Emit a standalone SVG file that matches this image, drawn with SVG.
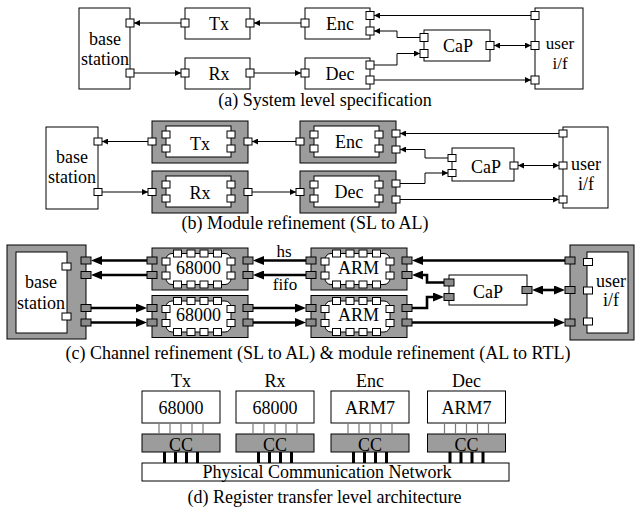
<svg xmlns="http://www.w3.org/2000/svg" xmlns:xlink="http://www.w3.org/1999/xlink" width="637" height="508" viewBox="0 0 637 508">
<style>
text{font-family:"Liberation Serif","Times New Roman",serif;font-size:18px;text-anchor:middle;fill:#000}
.b{fill:#fff;stroke:#000;stroke-width:1}
.g{fill:#9c9c9c;stroke:#000;stroke-width:1}
.p{fill:#fff;stroke:#000;stroke-width:1}
.gp{fill:#8a8a8a;stroke:#000;stroke-width:1}
.ln{fill:none;stroke:#000;stroke-width:1}
.tk{fill:none;stroke:#000;stroke-width:2.6}
.gl{stroke:#7a7a7a;stroke-width:1.2}
.bl{stroke:#000;stroke-width:3}
.sm{font-size:17px}
</style>
<defs>
<marker id="sa" viewBox="0 0 6 6" refX="6" refY="3" markerWidth="6" markerHeight="6" markerUnits="userSpaceOnUse" orient="auto-start-reverse"><path d="M0,0L6,3L0,6z"/></marker>
<marker id="la" viewBox="0 0 11 9" refX="3" refY="4.5" markerWidth="11" markerHeight="9" markerUnits="userSpaceOnUse" orient="auto-start-reverse"><path d="M0,0L11,4.5L0,9z"/></marker>
<g id="bm">
<rect class="g" x="0" y="0" width="96" height="42"/>
<rect class="b" x="14" y="5" width="65" height="31"/>
<rect class="p" x="10" y="10" width="8" height="7"/>
<rect class="p" x="10" y="24" width="8" height="7"/>
<rect class="p" x="75" y="10" width="8" height="7"/>
<rect class="p" x="75" y="24" width="8" height="7"/>
</g>
<g id="cm">
<rect class="g" x="0" y="0" width="96" height="42"/>
<rect class="b" x="14" y="5.5" width="65" height="31" rx="6"/>
<rect class="p" x="21.5" y="2" width="8" height="7"/>
<rect class="p" x="35" y="2" width="8" height="7"/>
<rect class="p" x="48" y="2" width="8" height="7"/>
<rect class="p" x="61.5" y="2" width="8" height="7"/>
<rect class="p" x="21.5" y="33" width="8" height="7"/>
<rect class="p" x="35" y="33" width="8" height="7"/>
<rect class="p" x="48" y="33" width="8" height="7"/>
<rect class="p" x="61.5" y="33" width="8" height="7"/>
<rect class="p" x="10" y="10" width="8" height="7"/>
<rect class="p" x="10" y="24" width="8" height="7"/>
<rect class="p" x="75" y="10" width="8" height="7"/>
<rect class="p" x="75" y="24" width="8" height="7"/>
<rect class="gp" x="-5" y="9" width="10" height="7"/>
<rect class="gp" x="-5" y="23.5" width="10" height="7"/>
<rect class="gp" x="91" y="9" width="10" height="7"/>
<rect class="gp" x="91" y="23.5" width="10" height="7"/>
</g>
</defs>
<rect width="637" height="508" fill="#fff"/>

<!-- (a) -->
<g id="a-base"><rect class="b" x="79" y="8" width="51" height="81"/><rect class="p" x="126" y="19" width="8" height="8"/><rect class="p" x="126" y="69" width="8" height="8"/><text x="105" y="44.5">base</text><text x="105" y="65">station</text></g>
<g id="a-tx"><rect class="b" x="185" y="8" width="65" height="31"/><rect class="p" x="181" y="19" width="8" height="8"/><rect class="p" x="246" y="19" width="8" height="8"/><text x="219" y="29.5">Tx</text></g>
<g id="a-rx"><rect class="b" x="185" y="58" width="65" height="31"/><rect class="p" x="181" y="69" width="8" height="8"/><rect class="p" x="246" y="69" width="8" height="8"/><text x="219" y="80">Rx</text></g>
<g id="a-enc"><rect class="b" x="305" y="8" width="65" height="31"/><rect class="p" x="301" y="19" width="8" height="8"/><rect class="p" x="366" y="11.5" width="8" height="8"/><rect class="p" x="366" y="27" width="8" height="8"/><text x="340" y="29.5">Enc</text></g>
<g id="a-dec"><rect class="b" x="305" y="58" width="65" height="31"/><rect class="p" x="301" y="69" width="8" height="8"/><rect class="p" x="366" y="61" width="8" height="8"/><rect class="p" x="366" y="76" width="8" height="8"/><text x="340" y="80">Dec</text></g>
<g id="a-cap"><rect class="b" x="424" y="30" width="66" height="31"/><rect class="p" x="420" y="33.5" width="8" height="8"/><rect class="p" x="420" y="49.5" width="8" height="8"/><rect class="p" x="486" y="41.5" width="8" height="8"/><text x="458" y="52">CaP</text></g>
<g id="a-user"><rect class="b" x="535" y="8" width="48" height="81"/><rect class="p" x="531" y="11.5" width="8" height="8"/><rect class="p" x="531" y="41.5" width="8" height="8"/><rect class="p" x="531" y="76" width="8" height="8"/><text class="sm" x="560" y="48.5">user</text><text class="sm" x="560" y="68.5">i/f</text></g>
<text id="cap-a" x="325" y="106">(a) System level specification</text>

<!-- (b) -->
<g id="b-base"><rect class="b" x="46" y="127" width="52" height="82"/><rect class="p" x="94" y="138" width="8" height="7"/><rect class="p" x="94" y="188.5" width="8" height="7"/><text x="72" y="163">base</text><text x="72" y="183">station</text></g>
<g id="b-tx"><use xlink:href="#bm" x="152" y="121"/><rect class="p" x="148" y="138" width="8" height="7"/><rect class="p" x="244" y="138" width="8" height="7"/><text x="200" y="150">Tx</text></g>
<g id="b-rx"><use xlink:href="#bm" x="152" y="171"/><rect class="p" x="148" y="188.5" width="8" height="7"/><rect class="p" x="244" y="188.5" width="8" height="7"/><text x="200" y="199">Rx</text></g>
<g id="b-enc"><use xlink:href="#bm" x="300" y="121"/><rect class="p" x="296" y="138" width="8" height="7"/><rect class="p" x="392" y="130" width="8" height="7"/><rect class="p" x="392" y="146" width="8" height="7"/><text x="349" y="148">Enc</text></g>
<g id="b-dec"><use xlink:href="#bm" x="300" y="171"/><rect class="p" x="296" y="188.5" width="8" height="7"/><rect class="p" x="392" y="180" width="8" height="7"/><rect class="p" x="392" y="196" width="8" height="7"/><text x="349" y="198">Dec</text></g>
<g id="b-cap"><rect class="b" x="452" y="148" width="62" height="33"/><rect class="p" x="448" y="154.5" width="8" height="7"/><rect class="p" x="448" y="169.5" width="8" height="7"/><rect class="p" x="510" y="162" width="8" height="7"/><text x="486" y="173">CaP</text></g>
<g id="b-user"><rect class="b" x="563" y="127" width="45" height="81"/><rect class="p" x="559" y="130" width="8" height="7"/><rect class="p" x="559" y="162" width="8" height="7"/><rect class="p" x="559" y="196" width="8" height="7"/><text x="586" y="170">user</text><text x="586" y="190">i/f</text></g>
<text id="cap-b" x="305" y="229">(b) Module refinement (SL to AL)</text>

<!-- (c) -->
<g id="c-base"><rect class="g" x="7" y="245" width="79" height="94"/><rect class="b" x="16" y="252" width="51" height="81"/><rect class="p" x="62" y="263" width="9" height="7"/><rect class="p" x="62" y="313" width="9" height="7"/><rect class="gp" x="81" y="257" width="10" height="7"/><rect class="gp" x="81" y="271.5" width="10" height="7"/><rect class="gp" x="81" y="304.5" width="10" height="7"/><rect class="gp" x="81" y="319" width="10" height="7"/><text x="41" y="288">base</text><text x="41" y="309">station</text></g>
<g id="c-tx"><use xlink:href="#cm" x="152" y="248"/><text x="198.5" y="273.5">68000</text></g>
<g id="c-rx"><use xlink:href="#cm" x="152" y="295.5"/><text x="198.5" y="321">68000</text></g>
<g id="c-enc"><use xlink:href="#cm" x="311" y="248"/><text x="358.5" y="273.5">ARM</text></g>
<g id="c-dec"><use xlink:href="#cm" x="311" y="295.5"/><text x="358.5" y="321">ARM</text></g>
<g id="c-cap"><rect class="b" x="449" y="275" width="78" height="30"/><rect class="gp" x="444" y="279" width="10" height="7"/><rect class="gp" x="444" y="293.5" width="10" height="7"/><rect class="gp" x="522" y="286.5" width="10" height="7"/><text x="488" y="298">CaP</text></g>
<g id="c-user"><rect class="g" x="570" y="245" width="64" height="95"/><rect class="b" x="587" y="252" width="41" height="81"/><rect class="p" x="583.5" y="258.5" width="9" height="7"/><rect class="p" x="583.5" y="287" width="9" height="7"/><rect class="p" x="583.5" y="318" width="9" height="7"/><rect class="gp" x="565" y="257" width="10" height="7"/><rect class="gp" x="565" y="286.5" width="10" height="7"/><rect class="gp" x="565" y="319" width="10" height="7"/><text x="611" y="287">user</text><text x="611" y="306">i/f</text></g>
<text class="sm" x="284" y="257">hs</text>
<text class="sm" x="285" y="290">fifo</text>
<text id="cap-c" x="318" y="359">(c) Channel refinement (SL to AL) &amp; module refinement (AL to RTL)</text>

<!-- (d) -->
<g id="d-tx"><text x="181" y="387">Tx</text><rect class="b" x="142" y="391" width="78" height="32"/><text x="181" y="413.5">68000</text><rect class="g" x="142" y="434" width="78" height="18"/><text x="181" y="450.5">CC</text></g>
<g id="d-rx"><text x="275" y="387">Rx</text><rect class="b" x="236" y="391" width="78" height="32"/><text x="275" y="413.5">68000</text><rect class="g" x="236" y="434" width="78" height="18"/><text x="275" y="450.5">CC</text></g>
<g id="d-enc"><text x="370" y="387">Enc</text><rect class="b" x="331" y="391" width="78" height="32"/><text x="370" y="413.5">ARM7</text><rect class="g" x="331" y="434" width="78" height="18"/><text x="370" y="450.5">CC</text></g>
<g id="d-dec"><text x="466.5" y="387">Dec</text><rect class="b" x="427.5" y="391" width="78" height="32"/><text x="466.5" y="413.5">ARM7</text><rect class="g" x="427.5" y="434" width="78" height="18"/><text x="466.5" y="450.5">CC</text></g>
<g id="d-net"><rect class="b" x="142" y="463" width="367" height="18"/><text x="327" y="477.5">Physical Communication Network</text></g>
<text id="cap-d" x="324.5" y="503">(d) Register transfer level architecture</text>

<g id="connectors">
<!-- (a) -->
<path class="ln" marker-end="url(#sa)" d="M181,23H134"/>
<path class="ln" marker-end="url(#sa)" d="M301,23H254"/>
<path class="ln" marker-end="url(#sa)" d="M134,73H181"/>
<path class="ln" marker-end="url(#sa)" d="M254,73H301"/>
<path class="ln" marker-end="url(#sa)" d="M531,15.5H374"/>
<path class="ln" marker-end="url(#sa)" d="M420,37.5H397V31H374"/>
<path class="ln" marker-end="url(#sa)" d="M374,65H397V53.5H420"/>
<path class="ln" marker-start="url(#sa)" marker-end="url(#sa)" d="M494,45.5H531"/>
<path class="ln" marker-end="url(#sa)" d="M374,80H531"/>
<!-- (b) -->
<path class="ln" marker-end="url(#sa)" d="M148,141.5H102"/>
<path class="ln" marker-end="url(#sa)" d="M296,141.5H252"/>
<path class="ln" marker-end="url(#sa)" d="M102,192H148"/>
<path class="ln" marker-end="url(#sa)" d="M252,192H296"/>
<path class="ln" marker-end="url(#sa)" d="M559,133.5H400"/>
<path class="ln" marker-end="url(#sa)" d="M448,158H425V149.5H400"/>
<path class="ln" marker-end="url(#sa)" d="M400,183.5H425V173H448"/>
<path class="ln" marker-start="url(#sa)" marker-end="url(#sa)" d="M518,165.5H559"/>
<path class="ln" marker-end="url(#sa)" d="M400,199.5H559"/>
<!-- (c) -->
<path class="tk" marker-end="url(#la)" d="M147,260.5H99"/>
<path class="tk" marker-end="url(#la)" d="M147,275H99"/>
<path class="tk" marker-end="url(#la)" d="M91,308H139"/>
<path class="tk" marker-end="url(#la)" d="M91,322.5H139"/>
<path class="tk" marker-end="url(#la)" d="M306,260.5H261"/>
<path class="tk" marker-end="url(#la)" d="M306,275H261"/>
<path class="tk" marker-end="url(#la)" d="M253,308H298"/>
<path class="tk" marker-end="url(#la)" d="M253,322.5H298"/>
<path class="tk" marker-end="url(#la)" d="M565,260.5H420"/>
<path class="tk" marker-end="url(#la)" d="M444,282.5H427V275H420"/>
<path class="tk" marker-end="url(#la)" d="M412,308H427V297H436"/>
<path class="tk" marker-end="url(#la)" d="M412,322.5H557"/>
<path class="tk" marker-start="url(#la)" marker-end="url(#la)" d="M540,290H557"/>
<!-- (d) -->
<path class="gl" d="M159,423V434M170,423V434M181,423V434M192,423V434M203,423V434M253,423V434M264,423V434M275,423V434M286,423V434M297,423V434M348,423V434M359,423V434M370,423V434M381,423V434M392,423V434M444.5,423V434M455.5,423V434M466.5,423V434M477.5,423V434M488.5,423V434"/>
<path class="bl" d="M164.5,452V463M175.5,452V463M186.5,452V463M197.5,452V463M258.5,452V463M269.5,452V463M280.5,452V463M291.5,452V463M353.5,452V463M364.5,452V463M375.5,452V463M386.5,452V463M450,452V463M461,452V463M472,452V463M483,452V463"/>
</g>
</svg>
